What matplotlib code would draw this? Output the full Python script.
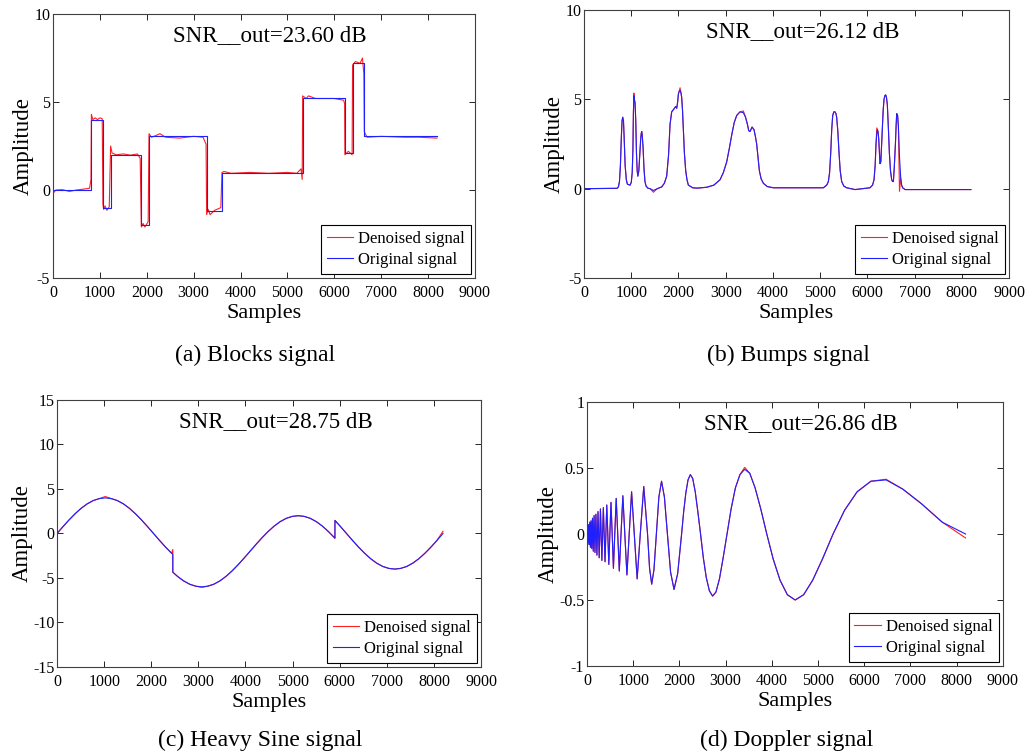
import numpy as np
from matplotlib import pyplot as plt
from matplotlib.ticker import FormatStrFormatter

plt.rc('font', family=['Liberation Serif', 'DejaVu Serif'], size=12)
plt.rc('xtick', labelsize=11.5, direction='in', top=True)
plt.rc('ytick', labelsize=11.5, direction='in', right=True)
plt.rc('axes', linewidth=0.8, edgecolor='#404040', unicode_minus=False)

RED = '#ff2020'
BLUE = '#2020ff'

# ---- (a) Blocks: original is a step signal, denoised read point by point
blocks_x = [0, 819, 1065, 1229, 1884, 2048, 3277, 3604, 5325, 6226, 6390, 6636, 8192]
blocks_y = [0.0, 4.0, -1.0, 2.0, -2.0, 3.05, -1.2, 0.95, 5.2, 2.1, 7.2, 3.05, 3.05]
blocks_den_x = [0, 60, 200, 350, 500, 650, 780, 810, 819, 850, 900, 950, 1000, 1050,
                1065, 1080, 1110, 1150, 1200, 1229, 1260, 1350, 1500, 1650, 1800, 1860,
                1884, 1920, 1960, 2030, 2048, 2100, 2200, 2280, 2400, 2700, 3000, 3200,
                3265, 3277, 3310, 3350, 3450, 3580, 3604, 3650, 3800, 4200, 4600, 5000,
                5200, 5290, 5315, 5325, 5400, 5450, 5600, 6000, 6200, 6220, 6226, 6300,
                6380, 6390, 6450, 6550, 6600, 6630, 6640, 6700, 7000, 7500, 7800, 8192]
blocks_den_y = [-0.2, 0.0, 0.02, -0.08, 0.0, 0.05, 0.1, 0.6, 4.3, 4.0, 4.1, 4.0, 4.1, 4.05,
                -0.8, -1.1, -0.9, -1.15, -0.95, 2.5, 2.1, 2.0, 2.05, 1.98, 2.05, 1.8,
                -2.1, -1.9, -2.1, -1.8, 3.2, 3.0, 3.1, 3.2, 3.0, 2.95, 3.05, 3.0,
                2.6, -1.4, -1.1, -1.4, -1.15, -1.0, 1.0, 1.05, 0.95, 1.0, 0.95, 1.0,
                0.95, 1.2, 0.6, 5.35, 5.2, 5.35, 5.2, 5.2, 5.1, 4.9, 2.0, 2.2,
                2.0, 7.1, 7.3, 7.2, 7.5, 6.6, 3.3, 3.0, 3.05, 3.0, 3.0, 2.95]

# ---- (b) Bumps
bumps_x = [0, 700, 727, 750, 770, 790, 805, 819, 835, 850, 870, 895, 918, 974, 1000,
           1020, 1035, 1045, 1055, 1065, 1080, 1095, 1110, 1125, 1140, 1160, 1180, 1200,
           1212, 1221, 1232, 1250, 1270, 1290, 1313, 1350, 1400, 1468, 1550, 1645, 1700,
           1750, 1790, 1821, 1856, 1900, 1941, 1962, 1980, 1998, 2015, 2033, 2050, 2068,
           2085, 2100, 2125, 2153, 2180, 2209, 2300, 2400, 2600, 2750, 2880, 2950, 3021,
           3080, 3127, 3180, 3233, 3303, 3374, 3420, 3460, 3487, 3515, 3558, 3600, 3630,
           3656, 3690, 3713, 3750, 3798, 3880, 4009, 5068, 5140, 5174, 5200, 5224, 5245,
           5266, 5290, 5315, 5335, 5350, 5375, 5400, 5425, 5456, 5500, 5562, 5739, 6056,
           6110, 6141, 6165, 6183, 6200, 6212, 6225, 6240, 6255, 6268, 6285, 6300, 6318,
           6335, 6353, 6370, 6388, 6405, 6423, 6445, 6466, 6490, 6515, 6535, 6551, 6570,
           6594, 6610, 6622, 6640, 6657, 6680, 6706, 6725, 6748, 6798, 8192]
bumps_y = [0.0, 0.02, 0.1, 0.4, 1.3, 2.9, 3.8, 4.0, 3.8, 2.8, 1.3, 0.5, 0.25, 0.2, 0.35,
           0.9, 2.2, 4.2, 5.2, 5.0, 4.8, 3.8, 2.0, 1.0, 0.7, 1.0, 1.9, 2.8,
           3.1, 3.2, 3.0, 2.3, 1.1, 0.4, 0.15, 0.03, 0.0, -0.1, 0.0, 0.1, 0.3,
           0.7, 1.9, 3.6, 4.3, 4.45, 4.6, 4.5, 4.8, 5.3, 5.45, 5.5, 5.4, 5.1,
           4.4, 3.5, 2.0, 1.0, 0.5, 0.2, 0.05, 0.03, 0.08, 0.2, 0.5, 0.9, 1.5,
           2.3, 3.0, 3.7, 4.1, 4.3, 4.25, 4.0, 3.6, 3.25, 3.2, 3.45, 3.3, 2.9,
           2.5, 1.6, 1.0, 0.55, 0.3, 0.12, 0.05, 0.05, 0.2, 0.4, 0.9, 2.0, 3.3,
           4.1, 4.3, 4.3, 4.2, 4.0, 3.2, 2.0, 1.0, 0.4, 0.15, 0.05, -0.05, 0.05,
           0.2, 0.5, 1.3, 2.5, 3.1, 3.3, 3.2, 2.8, 2.0, 1.4, 1.5, 2.4, 3.5,
           4.4, 5.0, 5.2, 5.25, 5.1, 4.7, 3.4, 2.0, 1.0, 0.5, 0.4, 0.4, 1.2,
           2.5, 3.6, 4.2, 4.1, 3.5, 1.8, 0.6, 0.2, 0.05, -0.05, -0.05]
bumps_den_y = list(bumps_y)
bumps_den_y[18] = 5.35
bumps_den_y[37] = -0.2
bumps_den_y[51] = 5.65
bumps_den_y[72] = 4.35
bumps_den_y[110] = 3.4
bumps_den_y[137] = -0.15

# ---- (c) Heavy Sine
hsine_x = [0, 128, 256, 384, 512, 640, 768, 896, 1024, 1152, 1280, 1408, 1536, 1664,
           1792, 1920, 2048, 2176, 2304, 2432, 2457, 2458, 2560, 2688, 2816, 2944,
           3072, 3200, 3328, 3456, 3584, 3712, 3840, 3968, 4096, 4224, 4352, 4480,
           4608, 4736, 4864, 4992, 5120, 5248, 5376, 5504, 5632, 5760, 5888, 5898,
           5899, 6016, 6144, 6272, 6400, 6528, 6656, 6784, 6912, 7040, 7168, 7296,
           7424, 7552, 7680, 7808, 7936, 8064, 8192]
hsine_y = [0.0, 0.78, 1.53, 2.22, 2.83, 3.33, 3.70, 3.92, 4.0, 3.92, 3.70, 3.33, 2.83, 2.22,
           1.53, 0.78, 0.0, -0.78, -1.53, -2.22, -2.35, -4.35, -4.83, -5.33, -5.70, -5.92,
           -6.0, -5.92, -5.70, -5.33, -4.83, -4.22, -3.53, -2.78, -2.0, -1.22, -0.47, 0.22,
           0.83, 1.33, 1.70, 1.92, 2.0, 1.92, 1.70, 1.33, 0.83, 0.22, -0.47, -0.53,
           1.47, 0.78, 0.0, -0.78, -1.53, -2.22, -2.83, -3.33, -3.70, -3.92, -4.0, -3.92,
           -3.70, -3.33, -2.83, -2.22, -1.53, -0.78, 0.0]
hsine_den_y = list(hsine_y)
hsine_den_y[8] = 4.15
hsine_den_y[20] = -1.8
hsine_den_y[26] = -6.05
hsine_den_y[68] = 0.25

# ---- (d) Doppler
doppler_x = [0, 5, 15, 26, 37, 49, 62, 75, 89, 104, 120, 137, 155, 174, 194, 216, 239,
             265, 292, 323, 355, 391, 429, 451, 473, 496, 520, 546, 573, 602, 633, 666,
             700, 737, 777, 819, 865, 914, 966, 1024, 1086, 1154, 1229, 1311, 1355,
             1401, 1450, 1502, 1556, 1614, 1676, 1741, 1810, 1884, 1963, 2048, 2093,
             2139, 2187, 2237, 2289, 2343, 2399, 2458, 2518, 2582, 2649, 2718, 2791,
             2867, 2947, 3031, 3119, 3212, 3310, 3413, 3523, 3638, 3761, 3891, 4030,
             4178, 4336, 4506, 4688, 4884, 5095, 5325, 5574, 5846, 6144, 6472, 6834,
             7236, 7686, 8192]
doppler_y = [0.0, -0.02, 0.04, -0.06, 0.07, -0.08, 0.09, -0.10, 0.10, -0.11, 0.12, -0.13,
             0.14, -0.14, 0.15, -0.16, 0.17, -0.18, 0.19, -0.20, 0.20, -0.21, 0.22, 0.0,
             -0.23, 0.0, 0.24, 0.0, -0.26, 0.0, 0.27, 0.0, -0.28, 0.0, 0.29, 0.0, -0.31,
             0.0, 0.32, 0.0, -0.34, 0.0, 0.36, 0.0, -0.26, -0.38, -0.27, 0.0, 0.28, 0.40,
             0.28, 0.0, -0.29, -0.42, -0.30, 0.0, 0.17, 0.31, 0.41, 0.45, 0.42, 0.32,
             0.17, 0.0, -0.18, -0.33, -0.43, -0.47, -0.44, -0.34, -0.18, 0.0, 0.19,
             0.35, 0.45, 0.49, 0.46, 0.35, 0.19, 0.0, -0.19, -0.35, -0.46, -0.50,
             -0.46, -0.35, -0.19, 0.0, 0.18, 0.32, 0.40, 0.41, 0.34, 0.23, 0.09, 0.0]
doppler_den_y = list(doppler_y)
doppler_den_y[75] = 0.505
doppler_den_y[91] = 0.415
doppler_den_y[95] = -0.03


def draw_panel(ax, x, y, xd, yd, snr, ylim, yticks, caption, steps=False):
	ax.plot(xd, yd, color=RED, lw=0.8, label='Denoised signal')
	if steps:
		ax.plot(x, y, color=BLUE, lw=0.8, drawstyle='steps-post', label='Original signal')
	else:
		ax.plot(x, y, color=BLUE, lw=0.8, label='Original signal')
	ax.set_xlim(0, 9000)
	ax.set_ylim(*ylim)
	ax.set_xticks(np.arange(0, 9001, 1000))
	ax.set_yticks(yticks)
	ax.yaxis.set_major_formatter(FormatStrFormatter('%g'))
	ax.tick_params(length=4, width=0.6, colors='black')
	ax.tick_params(axis='x', pad=5)
	ax.tick_params(axis='y', pad=2)
	ax.set_xlabel('Samples', fontsize=16, labelpad=2)
	ax.set_ylabel('Amplitude', fontsize=16.5, labelpad=0)
	ax.text(0.515, 0.92, 'SNR__out=%s dB' % snr, transform=ax.transAxes,
			ha='center', va='center', fontsize=16.5)
	leg = ax.legend(loc='lower right', fontsize=12, fancybox=False, framealpha=1,
					edgecolor='black', borderaxespad=0.25, handlelength=1.6,
					handletextpad=0.3, borderpad=0.35, labelspacing=0.3)
	leg.get_frame().set_linewidth(0.8)
	bb = ax.get_position()
	ax.figure.text(bb.x0 + bb.width * 0.48, caption[1], caption[0],
				   ha='center', va='center', fontsize=17)


fig = plt.figure(figsize=(10.35, 7.54), dpi=100)
ax_a = fig.add_axes([0.0512, 0.6313, 0.4077, 0.3501])
ax_b = fig.add_axes([0.5643, 0.6313, 0.4106, 0.3554])
ax_c = fig.add_axes([0.0551, 0.1154, 0.4097, 0.3541])
ax_d = fig.add_axes([0.5671, 0.1167, 0.4019, 0.3501])

draw_panel(ax_a, blocks_x, blocks_y, blocks_den_x, blocks_den_y, '23.60', (-5, 10),
		   [-5, 0, 5, 10], ('(a) Blocks signal', 1 - 355 / 754), steps=True)
draw_panel(ax_b, bumps_x, bumps_y, bumps_x, bumps_den_y, '26.12', (-5, 10),
		   [-5, 0, 5, 10], ('(b) Bumps signal', 1 - 355 / 754))
draw_panel(ax_c, hsine_x, hsine_y, hsine_x, hsine_den_y, '28.75', (-15, 15),
		   [-15, -10, -5, 0, 5, 10, 15], ('(c) Heavy Sine signal', 1 - 740 / 754))
draw_panel(ax_d, doppler_x, doppler_y, doppler_x, doppler_den_y, '26.86', (-1, 1),
		   [-1, -0.5, 0, 0.5, 1], ('(d) Doppler signal', 1 - 740 / 754))

plt.savefig('out.png', dpi=100)
